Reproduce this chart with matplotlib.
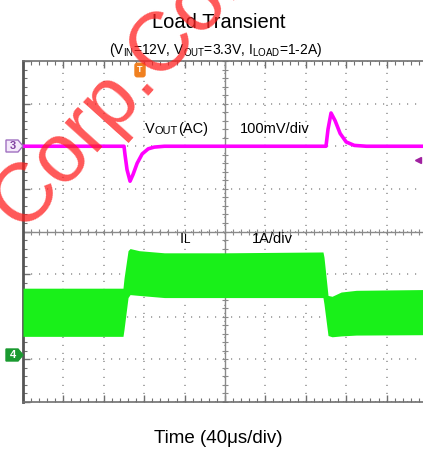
import numpy as np
import matplotlib
matplotlib.use("Agg")
from matplotlib import pyplot as plt
from matplotlib.patches import Polygon

plt.rcParams['font.family'] = ['Liberation Sans', 'DejaVu Sans']
plt.rcParams['mathtext.fontset'] = 'custom'
plt.rcParams['mathtext.rm'] = 'Liberation Sans'
plt.rcParams['mathtext.it'] = 'Liberation Sans'

# time base: 40us/div, 10 divisions
T_DIV = 40
N_XDIV = 10
N_YDIV = 8

# VOUT (AC coupled) in mV, 100mV/div
vout_t = [0, 100, 101, 103, 106, 109, 113, 118, 124, 130, 140, 300, 302, 305, 309, 314, 320, 328, 340, 404]
vout_mv = [0, 0, -20, -55, -82, -66, -40, -18, -6, -2, 0, 0, 40, 78, 60, 30, 10, 2, 0, 0]
VOUT_SCALE = 100   # mV/div
VOUT_POS = 2       # divisions below top

# inductor current envelope (A), 1A/div
il_t = [0, 99, 100, 104, 106, 115, 140, 200, 297, 298, 302, 306, 315, 330, 404]
il_hi = [1.67, 1.67, 1.9, 2.55, 2.6, 2.55, 2.5, 2.5, 2.52, 2.4, 1.5, 1.48, 1.58, 1.62, 1.64]
il_lo = [0.54, 0.54, 0.7, 1.45, 1.52, 1.5, 1.45, 1.45, 1.45, 1.3, 0.56, 0.53, 0.55, 0.57, 0.58]
IL_SCALE = 1       # A/div
IL_POS = 7         # divisions below top

TRIG_LEVEL_MV = -33

W, H = 423, 454
fig = plt.figure(figsize=(W / 100, H / 100), dpi=100)

# scope graticule, it runs a little past the right edge of the picture
ax = fig.add_axes([23 / W, (H - 402) / H, 404 / W, 341 / H])
ax.set_xlim(0, N_XDIV * T_DIV)
ax.set_ylim(0, N_YDIV)
ax.set_xticks(np.arange(0, N_XDIV * T_DIV + 1, T_DIV))
ax.set_xticks(np.arange(0, N_XDIV * T_DIV + 1, T_DIV / 5), minor=True)
ax.set_yticks(np.arange(0, N_YDIV + 1, 1))
ax.set_yticks(np.arange(0, N_YDIV + 0.01, 0.2), minor=True)
ax.tick_params(which='both', direction='in', top=True, bottom=True, left=True, right=False,
               labelbottom=False, labelleft=False, color='#707070')
ax.tick_params(which='major', length=5, width=1)
ax.tick_params(which='minor', length=3, width=0.8)
ax.grid(True, which='major', color='#9a9a9a', linewidth=1.2, linestyle=(0, (0.7, 4.1)))
for s in ['top', 'bottom']:
    ax.spines[s].set_color('#707070')
    ax.spines[s].set_linewidth(1.2)
ax.spines['left'].set_color('#555555')
ax.spines['left'].set_linewidth(2)
ax.spines['right'].set_visible(False)

# centre cross with its small ticks
xc = N_XDIV * T_DIV / 2
yc = N_YDIV / 2
ax.axvline(xc, color='#8a8a8a', lw=1)
ax.axhline(yc, color='#8a8a8a', lw=1)
xm = np.arange(0, N_XDIV * T_DIV + 1, T_DIV / 5)
ym = np.arange(0, N_YDIV + 0.01, 0.2)
ax.plot(xm, np.full(len(xm), yc), ls='none', marker='|', ms=5, mew=0.8, color='#8a8a8a')
ax.plot(np.full(len(ym), xc), ym, ls='none', marker='_', ms=5, mew=0.8, color='#8a8a8a')

# VOUT channel
ax_v = ax.twinx()
ax_v.set_ylim(-(N_YDIV - VOUT_POS) * VOUT_SCALE, VOUT_POS * VOUT_SCALE)
ax_v.axis('off')
ax_v.plot(vout_t, vout_mv, color='#ff00ff', lw=2.6, solid_joinstyle='round')
ax_v.plot([N_XDIV * T_DIV * 0.977], [TRIG_LEVEL_MV], marker='<', ms=5, color='#a020a0', clip_on=False)

# IL channel
ax_i = ax.twinx()
ax_i.set_ylim(-(N_YDIV - IL_POS) * IL_SCALE, IL_POS * IL_SCALE)
ax_i.axis('off')
ax_i.fill_between(il_t, il_lo, il_hi, color='#19f019', lw=0)

# labels on the screen
def smallcaps(axx, x, y, parts, size):
    t = axx.text(x, y, parts[0][0], fontsize=size * parts[0][1], transform=fig.transFigure,
                 va='baseline')
    for txt, sc in parts[1:]:
        t = axx.annotate(txt, xy=(1, 0), xycoords=t, fontsize=size * sc, va='bottom')
    return t

smallcaps(ax, 145 / W, 1 - 133 / H, [('V', 1), ('OUT', 0.75), ('(AC)', 1)], 10.5)
fig.text(240 / W, 1 - 133 / H, '100mV/div', fontsize=10.5)
smallcaps(ax, 180 / W, 1 - 243 / H, [('I', 1), ('L', 0.8)], 10.5)
fig.text(252 / W, 1 - 243 / H, '1A/div', fontsize=10.5)

# channel tags
def tag(yp, txt, fc, ec, tc):
    x0, x1, xt = 6, 18, 23
    pts = [(x0, yp - 6), (x1, yp - 6), (xt, yp), (x1, yp + 6), (x0, yp + 6)]
    pts = [(px / W, 1 - py / H) for px, py in pts]
    fig.patches.append(Polygon(pts, closed=True, fc=fc, ec=ec, lw=1, transform=fig.transFigure))
    fig.text(12.5 / W, 1 - yp / H, txt, color=tc, fontsize=8, fontweight='bold', ha='center', va='center')

tag(146, '3', '#f4e8fa', '#a070c0', '#8040a0')
tag(355, '4', '#1a9a30', '#1a9a30', 'white')

# trigger marker
fig.text(140 / W, 1 - 70 / H, 'T', color='white', fontsize=6.5, fontweight='bold', ha='center', va='center',
         bbox=dict(boxstyle='round,pad=0.25', fc='#f08020', ec='#f08020'))

fig.text(219 / W, 1 - 28 / H, 'Load Transient', fontsize=14.5, ha='center', va='baseline')
fig.text(216 / W, 1 - 54 / H, r'(V$_{\mathrm{IN}}$=12V, V$_{\mathrm{OUT}}$=3.3V, I$_{\mathrm{LOAD}}$=1-2A)',
         fontsize=10, ha='center', va='baseline')
fig.text(218 / W, 1 - 443 / H, 'Time (40\u03bcs/div)', fontsize=13.5, ha='center', va='baseline')

# watermark
fig.text(22 / W, 1 - 232 / H, 'Corp.Com', fontsize=60, color='#ff2020', alpha=0.75, rotation=48,
         rotation_mode='anchor', ha='left', va='baseline', zorder=20)

fig.savefig('out.png', dpi=100)
